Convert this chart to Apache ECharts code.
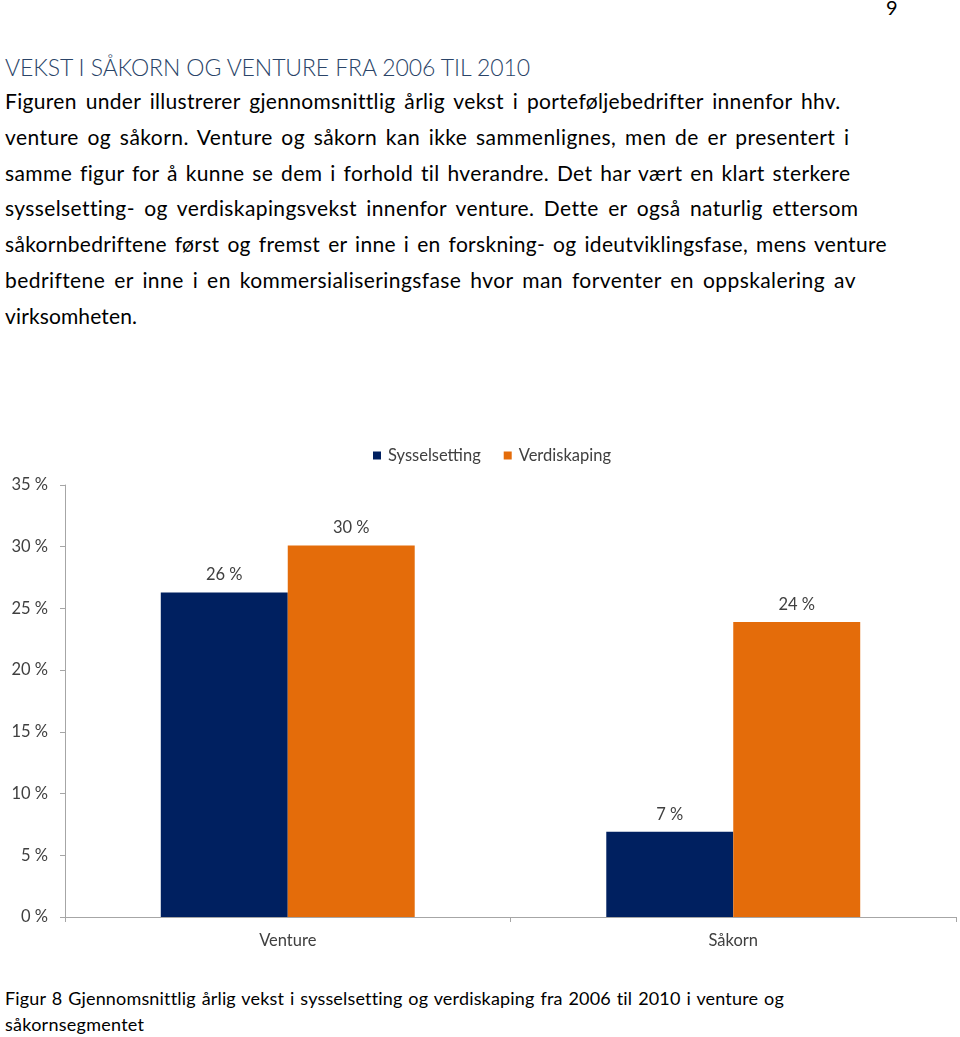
<!DOCTYPE html>
<html>
<head>
<meta charset="utf-8">
<script src="https://cdn.jsdelivr.net/npm/echarts@6/dist/echarts.min.js"></script>
<style>
  html, body { margin: 0; padding: 0; background: #fff; width: 960px; height: 1037px; overflow: hidden; }
  .t { position: absolute; white-space: nowrap; font-family: "Lato", "Open Sans", sans-serif; color: #000; }
  .body { font-size: 21px; left: 5px; }
  #chart { position: absolute; left: 0; top: 430px; width: 960px; height: 540px; }
</style>
</head>
<body>
<div class="t" style="left:886px; top:-5px; font-size:20px;">9</div>
<div class="t fit" data-r="530" style="left:5px; top:53px; font-size:23px; font-weight:300; color:#2A4468;">VEKST I SÅKORN OG VENTURE FRA 2006 TIL 2010</div>
<div class="t body fit" data-r="839" style="top:88px;">Figuren under illustrerer gjennomsnittlig årlig vekst i porteføljebedrifter innenfor hhv.</div>
<div class="t body fit" data-r="849" style="top:124px;">venture og såkorn. Venture og såkorn kan ikke sammenlignes, men de er presentert i</div>
<div class="t body fit" data-r="850" style="top:160px;">samme figur for å kunne se dem i forhold til hverandre. Det har vært en klart sterkere</div>
<div class="t body fit" data-r="856" style="top:195px;">sysselsetting- og verdiskapingsvekst innenfor venture. Dette er også naturlig ettersom</div>
<div class="t body fit" data-r="886" style="top:231px;">såkornbedriftene først og fremst er inne i en forskning- og ideutviklingsfase, mens venture</div>
<div class="t body fit" data-r="855" style="top:267px;">bedriftene er inne i en kommersialiseringsfase hvor man forventer en oppskalering av</div>
<div class="t body fit" data-r="137" style="top:303px;">virksomheten.</div>
<div id="chart"></div>
<div class="t fit" data-r="783" style="left:5px; top:987px; font-size:18px;">Figur 8 Gjennomsnittlig årlig vekst i sysselsetting og verdiskaping fra 2006 til 2010 i venture og</div>
<div class="t fit" data-r="144" style="left:5px; top:1013px; font-size:18px;">såkornsegmentet</div>
<script>
const categories = ['Venture', 'Såkorn'];
const seriesNames = ['Sysselsetting', 'Verdiskaping'];
const sysselsetting = [26.3, 6.9];
const verdiskaping = [30.1, 23.9];
const yTicks = [0, 5, 10, 15, 20, 25, 30, 35];

// stretch each text line to the width it has in the reference
document.querySelectorAll('.fit').forEach(el => {
  const target = parseFloat(el.dataset.r);
  const r = el.getBoundingClientRect();
  const txt = el.textContent;
  const n = txt.length;
  const spaces = (txt.match(/ /g) || []).length;
  const extra = target - r.right;
  if (spaces > 0 && extra > 0) {
    const ws = extra * 0.5 / spaces;
    const ls = extra * 0.5 / Math.max(1, n - 1);
    el.style.wordSpacing = ws.toFixed(3) + 'px';
    el.style.letterSpacing = ls.toFixed(3) + 'px';
  } else {
    el.style.letterSpacing = (extra / Math.max(1, n - 1)).toFixed(3) + 'px';
  }
});

const chart = echarts.init(document.getElementById('chart'), null, { renderer: 'canvas' });
const labelStyle = {
  show: true, position: 'top', distance: 9,
  fontFamily: 'Lato', fontSize: 16.5, color: '#404040',
  formatter: p => Math.round(p.value) + ' %'
};
chart.setOption({
  animation: false,
  textStyle: { fontFamily: 'Lato' },
  legend: {
    data: seriesNames,
    left: 368, top: 12,
    itemWidth: 8, itemHeight: 8, itemGap: 23,
    icon: 'rect',
    textStyle: { fontFamily: 'Lato', fontSize: 16.5, color: '#404040', padding: [0, 0, 0, 2] }
  },
  grid: { left: 65, right: 4, top: 55, bottom: 53, containLabel: false },
  xAxis: {
    type: 'category', data: categories,
    axisLine: { lineStyle: { color: '#A6A6A6', width: 1 } },
    axisTick: { show: true, length: 5, lineStyle: { color: '#A6A6A6' } },
    axisLabel: { fontFamily: 'Lato', fontSize: 16.5, color: '#404040', margin: 15 }
  },
  yAxis: {
    type: 'value', min: yTicks[0], max: yTicks[yTicks.length - 1], interval: 5,
    axisLine: { show: true, lineStyle: { color: '#A6A6A6', width: 1 } },
    axisTick: { show: true, length: 5, lineStyle: { color: '#A6A6A6' } },
    splitLine: { show: false },
    axisLabel: { fontFamily: 'Lato', fontSize: 16.5, color: '#404040', margin: 17, formatter: '{value} %' }
  },
  series: [
    { name: seriesNames[0], type: 'bar', data: sysselsetting, barGap: '0%', barCategoryGap: '43%',
      itemStyle: { color: '#002060' }, label: labelStyle },
    { name: seriesNames[1], type: 'bar', data: verdiskaping, barGap: '0%', barCategoryGap: '43%',
      itemStyle: { color: '#E46C0A' }, label: labelStyle }
  ]
});
</script>
</body>
</html>
